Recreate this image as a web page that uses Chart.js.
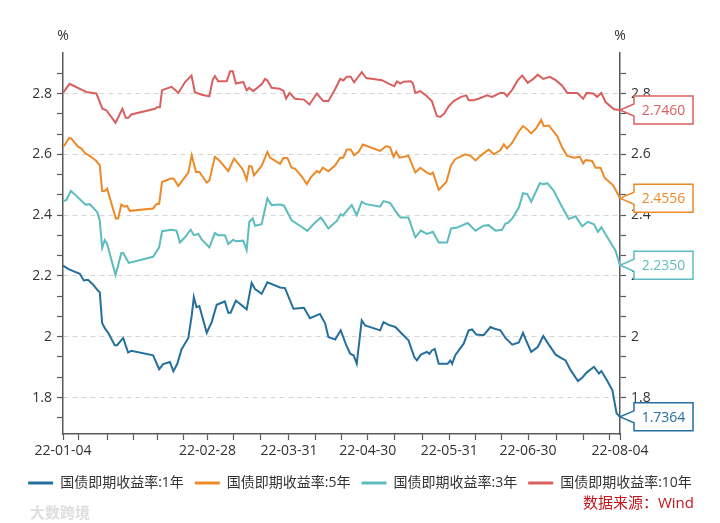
<!DOCTYPE html>
<html>
<head>
<meta charset="utf-8">
<script src="https://cdn.jsdelivr.net/npm/chart.js@4/dist/chart.umd.min.js"></script>
<style>
  body { margin: 0; background: #fff; }
  #wrap { width: 720px; height: 523px; position: relative; }
</style>
</head>
<body>
<div id="wrap"><canvas id="bondChart"></canvas></div>
<script>
// x = days since 2022-01-04
const seriesNames = ['国债即期收益率:1年', '国债即期收益率:5年', '国债即期收益率:3年', '国债即期收益率:10年'];
const seriesColors = ['#246f9b', '#ec8a29', '#5dbcbd', '#d8605f'];

const days1y = [0,1.9,4.4,6.4,7.9,9.5,11.4,13.3,14,14.9,15.9,17.2,19.7,20.6,22.9,24.8,26,34.3,36.6,38.1,40.7,42,43.5,45.1,47.7,49,49.8,50.8,51.9,54.7,56.6,58.5,61.6,62.9,63.8,65.8,69.9,71.8,73.1,75.6,77.8,82.6,84.5,87.7,91.7,94,97.8,99.8,101,103.6,105.7,107.8,109.3,110.6,111.8,113.7,115,120.7,122,123.9,126.5,129,131.5,133.7,134.7,136.2,138.5,139.5,140.4,141.5,143,146.4,147.4,148.1,149.3,152.5,154.4,155.7,157.3,160.1,162.7,164,166.5,168.4,171,173.5,175.1,176.4,178.2,180.7,182.8,184.9,187.5,190,191.3,193.2,196,197.6,199.3,202.1,204,204.9,207.2,209.1,210.7,212];
const yield1y = [2.234,2.223,2.214,2.207,2.185,2.187,2.172,2.152,2.146,2.045,2.028,2.013,1.972,1.972,1.996,1.948,1.954,1.939,1.893,1.910,1.917,1.886,1.911,1.958,1.996,2.070,2.130,2.097,2.101,2.013,2.048,2.105,2.116,2.079,2.079,2.119,2.090,2.177,2.157,2.141,2.179,2.162,2.160,2.092,2.095,2.061,2.075,2.043,1.999,1.991,2.021,1.972,1.944,1.939,1.911,2.054,2.037,2.021,2.048,2.039,2.032,2.010,1.988,1.933,1.922,1.941,1.950,1.944,1.955,1.960,1.911,1.911,1.922,1.911,1.939,1.977,2.021,2.024,2.007,2.005,2.032,2.027,2.021,1.996,1.974,1.981,2.013,1.985,1.950,1.966,2.002,1.974,1.941,1.928,1.922,1.890,1.854,1.865,1.882,1.901,1.879,1.887,1.854,1.824,1.748,1.7364];

const days5y = [0,0.6,2.3,3.2,5.7,7,8.3,10.8,12.7,14,14.9,15.9,16.8,20.1,21,22.2,23.5,24.4,25.4,34.3,35.6,36.6,37.7,41.3,42.2,43.9,47.7,49,50.6,51.9,54.7,55.7,57.8,59.7,62.9,65.1,68.4,69.9,70.9,71.8,72.7,75.6,77.8,78.8,82.6,83.9,85.4,87,88.3,90.9,92.8,94.3,96.6,97.6,98.9,101,103.6,105.5,106.7,108,109.5,110.8,112.5,114.1,120.7,123,124.5,125.8,126.8,128.1,131.5,134.1,136,138.5,139.8,140.8,143,145.9,147.7,149.3,153.1,155.1,157,158.9,162,164,166.5,167.8,169,171,173.5,175.1,176.7,178.2,180.2,182,183,184.9,188.1,190,191.9,194.5,196.7,198,198.9,201.4,202.7,204.6,206.1,209.4,212];
const yield5y = [2.625,2.630,2.654,2.652,2.625,2.619,2.605,2.591,2.578,2.564,2.479,2.480,2.487,2.389,2.389,2.435,2.428,2.430,2.414,2.422,2.436,2.438,2.509,2.521,2.519,2.496,2.540,2.597,2.542,2.542,2.507,2.513,2.592,2.578,2.545,2.586,2.551,2.516,2.562,2.560,2.531,2.562,2.608,2.589,2.569,2.588,2.588,2.556,2.553,2.527,2.502,2.524,2.545,2.540,2.556,2.544,2.564,2.589,2.589,2.616,2.616,2.597,2.608,2.632,2.611,2.627,2.623,2.592,2.608,2.589,2.595,2.540,2.556,2.540,2.534,2.540,2.483,2.509,2.564,2.584,2.600,2.595,2.580,2.595,2.616,2.600,2.614,2.633,2.619,2.638,2.676,2.693,2.682,2.669,2.687,2.713,2.693,2.695,2.660,2.622,2.595,2.589,2.592,2.570,2.581,2.578,2.556,2.556,2.523,2.498,2.4556];

const days3y = [0,1.3,3,4.4,6.4,8.6,10.2,11.4,13.1,14,14.9,15.9,16.8,20,22.2,22.9,25,34.3,36.6,37.7,41.3,43.2,44.5,46.4,48.6,49.8,51.5,52.7,55.7,57.8,59.1,61.6,62.9,64.8,65.8,68.6,69.9,70.9,72.2,73.1,75.6,77.8,79.4,82.6,84.1,87,90.2,93,95.3,98.1,99.1,101,104.2,105.7,106.5,108,109.9,111.8,113.7,115,120.7,122,124.5,126.5,128.4,131.5,134.1,136.2,138.5,140.8,143,146.2,147.7,150,154,157,160.1,162,164.6,167.1,168.4,169.3,171,173.5,175.1,176.7,178.2,181.5,183,184.3,186.8,189.4,192.5,195.1,197.6,199.8,202.1,203.6,204.9,207.2,210.3,212];
const yield3y = [2.445,2.450,2.480,2.469,2.452,2.434,2.436,2.425,2.409,2.381,2.292,2.318,2.305,2.203,2.275,2.275,2.243,2.263,2.294,2.347,2.352,2.349,2.310,2.327,2.352,2.334,2.338,2.321,2.294,2.341,2.334,2.334,2.305,2.319,2.314,2.316,2.285,2.378,2.389,2.365,2.370,2.455,2.433,2.435,2.431,2.383,2.365,2.348,2.370,2.392,2.381,2.356,2.381,2.403,2.398,2.414,2.433,2.400,2.444,2.437,2.428,2.446,2.440,2.414,2.392,2.392,2.327,2.349,2.338,2.345,2.310,2.310,2.356,2.359,2.374,2.349,2.365,2.367,2.349,2.352,2.372,2.374,2.389,2.425,2.472,2.469,2.444,2.505,2.502,2.505,2.480,2.436,2.387,2.396,2.363,2.378,2.370,2.345,2.360,2.327,2.283,2.235];

const days10y = [0,2.5,4.4,7,8.9,12.7,15,16.5,20,22.6,23.9,24.9,26,35,35.8,36.9,37.7,41.3,42.2,43.9,46.4,48.9,50.2,52.8,55.7,57,57.8,59.1,62.3,63.6,64.6,65.8,68.6,69.9,70.9,72.4,75.6,76.9,77.8,79.4,82.4,83.9,84.9,86.2,88.3,91.7,93.8,96.6,99.1,101,103.6,105.5,106.7,108,109.5,110.8,113.7,115.4,121.4,124.5,126.1,127.1,128.4,129.6,132.4,133.2,134.1,136,138.5,140.4,142.3,143.6,145.1,146.8,148.7,151.5,153.5,154.4,156.1,158.2,161.4,163.3,166.5,167.8,169,171,173.1,174.8,176.9,179,180.7,182.8,185.3,187.5,190,191.9,195.7,198,199.3,201.8,203.3,204.9,206.5,209.7,212];
const yield10y = [2.802,2.832,2.824,2.813,2.805,2.800,2.750,2.745,2.704,2.750,2.720,2.720,2.731,2.750,2.755,2.755,2.811,2.822,2.816,2.802,2.837,2.859,2.804,2.796,2.791,2.846,2.857,2.840,2.840,2.873,2.873,2.833,2.838,2.811,2.819,2.808,2.830,2.848,2.843,2.819,2.816,2.809,2.783,2.802,2.783,2.780,2.764,2.800,2.775,2.775,2.815,2.848,2.843,2.855,2.855,2.837,2.870,2.851,2.844,2.830,2.824,2.840,2.833,2.839,2.840,2.833,2.802,2.808,2.791,2.775,2.726,2.723,2.734,2.758,2.775,2.789,2.794,2.778,2.778,2.783,2.794,2.789,2.802,2.802,2.791,2.813,2.844,2.859,2.835,2.848,2.862,2.848,2.855,2.844,2.826,2.802,2.802,2.783,2.802,2.800,2.789,2.802,2.772,2.748,2.746];

// x axis ticks (day offsets) and the ones that get a date label
const xTicks = [0,6,17,27,36,46,55,65,75,86,96,106,116,126,137,147,157,167,177,188,198,208,212];
const xLabelDays = [0, 55, 86, 116, 147, 177, 212];
const xLabelText = ['22-01-04', '22-02-28', '22-03-31', '22-04-30', '22-05-31', '22-06-30', '22-08-04'];

// y ticks every 1/15, labels only on 0.2 steps
const yTicks = [1.7333,1.8,1.8667,1.9333,2.0,2.0667,2.1333,2.2,2.2667,2.3333,2.4,2.4667,2.5333,2.6,2.6667,2.7333,2.8,2.8667];
const yLabelValues = [1.8, 2.0, 2.2, 2.4, 2.6, 2.8];
const yLabelText = ['1.8', '2', '2.2', '2.4', '2.6', '2.8'];

const FONT = "'Open Sans', 'Noto Sans CJK SC', sans-serif";
Chart.defaults.font.family = FONT;
Chart.defaults.font.size = 14;
Chart.defaults.color = '#333';

function toPoints(xs, ys) {
  return xs.map((d, i) => ({x: d, y: ys[i]}));
}

function yLabel(v) {
  const i = yLabelValues.findIndex(m => Math.abs(m - v) < 0.001);
  return i >= 0 ? yLabelText[i] : '';
}

function isMajor(v) {
  return yLabel(v) !== '';
}

const allDays = [days1y, days5y, days3y, days10y];
const allYields = [yield1y, yield5y, yield3y, yield10y];

const datasets = seriesNames.map((name, i) => ({
  label: name,
  data: toPoints(allDays[i], allYields[i]),
  borderColor: seriesColors[i],
  backgroundColor: seriesColors[i],
  borderWidth: 2,
  pointRadius: 0,
  tension: 0,
  yAxisID: 'y'
}));

// percent signs, end-value callouts, source note
const overlay = {
  id: 'overlay',
  afterDraw(chart) {
    const ctx = chart.ctx;
    const area = chart.chartArea;
    ctx.save();
    ctx.font = '14px ' + FONT;
    ctx.fillStyle = '#333';
    ctx.textAlign = 'center';
    ctx.textBaseline = 'middle';
    ctx.fillText('%', area.left, 36);
    ctx.fillText('%', area.right, 36);

    chart.data.datasets.forEach((ds, i) => {
      const meta = chart.getDatasetMeta(i);
      const pt = meta.data[meta.data.length - 1];
      const val = ds.data[ds.data.length - 1].y;
      const bx = area.right + 14, bw = 59, bh = 28;
      const y = pt.y;
      ctx.beginPath();
      ctx.moveTo(bx, y - bh / 2);
      ctx.lineTo(bx + bw, y - bh / 2);
      ctx.lineTo(bx + bw, y + bh / 2);
      ctx.lineTo(bx, y + bh / 2);
      ctx.lineTo(bx, y + 6);
      ctx.lineTo(pt.x, y);
      ctx.lineTo(bx, y - 6);
      ctx.closePath();
      ctx.fillStyle = '#fff';
      ctx.fill();
      ctx.lineWidth = 1.5;
      ctx.strokeStyle = ds.borderColor;
      ctx.stroke();
      ctx.fillStyle = ds.borderColor;
      ctx.font = '14px ' + FONT;
      ctx.fillText(val.toFixed(4), bx + bw / 2, y + 1);
    });

    ctx.textAlign = 'right';
    ctx.fillStyle = '#c4161c';
    ctx.font = '15px ' + FONT;
    ctx.fillText('数据来源：Wind', 694, 504);

    ctx.textAlign = 'left';
    ctx.fillStyle = '#dedede';
    ctx.font = 'bold 15px ' + FONT;
    ctx.fillText('大数跨境', 30, 514);
    ctx.restore();
  }
};

const config = {
  type: 'line',
  data: {datasets: datasets},
  options: {
    responsive: true,
    maintainAspectRatio: false,
    animation: false,
    layout: {padding: {top: 53, left: 0, right: 0, bottom: 23}},
    plugins: {
      tooltip: {enabled: false},
      legend: {
        position: 'bottom',
        labels: {
          boxWidth: 25,
          boxHeight: 3,
          padding: 11,
          color: '#333',
          font: {size: 14},
          generateLabels: chart => Chart.defaults.plugins.legend.labels.generateLabels(chart)
            .map(l => Object.assign(l, {lineWidth: 0}))
        }
      }
    },
    scales: {
      x: {
        type: 'linear',
        min: 0,
        max: 212,
        afterBuildTicks: s => { s.ticks = xTicks.map(v => ({value: v})); },
        afterFit: s => { s.height = 31; },
        ticks: {
          autoSkip: false,
          maxRotation: 0,
          minRotation: 0,
          padding: 3,
          color: '#333',
          callback: v => {
            const i = xLabelDays.indexOf(v);
            return i >= 0 ? xLabelText[i] : '';
          }
        },
        grid: {drawOnChartArea: false, drawTicks: true, tickLength: 6, tickColor: '#595959', tickWidth: 1.2},
        border: {color: '#595959', width: 1.5}
      },
      y: {
        position: 'left',
        min: 1.68,
        max: 2.9333,
        afterBuildTicks: s => { s.ticks = yTicks.map(v => ({value: v})); },
        afterFit: s => { s.width = 63; },
        ticks: {padding: 5, color: '#333', callback: v => yLabel(v)},
        grid: {
          color: c => (c.tick && isMajor(c.tick.value)) ? '#d6d6d6' : 'rgba(0,0,0,0)',
          lineWidth: 1,
          tickLength: 6,
          tickColor: '#595959',
          tickWidth: 1.2,
          tickBorderDash: []
        },
        border: {color: '#595959', width: 1.5, dash: [5, 4]}
      },
      y2: {
        position: 'right',
        min: 1.68,
        max: 2.9333,
        afterBuildTicks: s => { s.ticks = yTicks.map(v => ({value: v})); },
        afterFit: s => { s.width = 100; },
        ticks: {padding: 5, color: '#333', callback: v => yLabel(v)},
        grid: {drawOnChartArea: false, tickLength: 6, tickColor: '#595959', tickWidth: 1.2},
        border: {color: '#595959', width: 1.5}
      }
    }
  },
  plugins: [overlay]
};

var ctx = document.getElementById('bondChart').getContext('2d');
const bondChart = new Chart(ctx, config);
</script>
</body>
</html>
